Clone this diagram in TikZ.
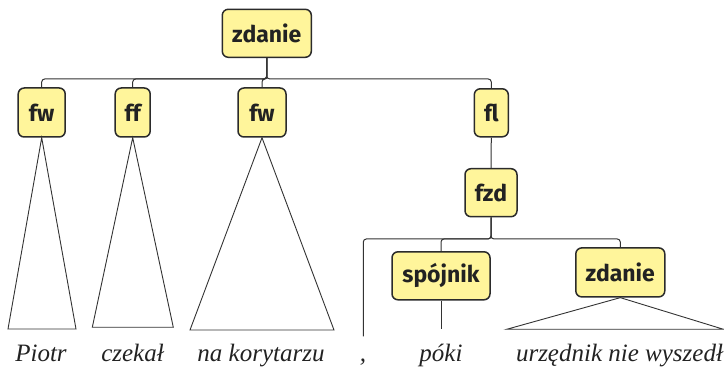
\documentclass[tikz,border=0pt]{standalone}
\usepackage{fontspec}
\setmainfont{Liberation Serif}
\newfontfamily\lblfont{Fira Sans}
\tikzset{
  x=1pt, y=-1pt,
  box/.style={draw=boxline, line width=1.5pt, fill=boxfill, rounded corners=6pt,
    inner sep=0pt, font=\lblfont\bfseries\fontsize{23}{26}\selectfont, text=txt,
    minimum height=48pt},
  conn/.style={draw=conline, line width=1pt, rounded corners=3pt},
  tri/.style={draw=conline, line width=0.9pt, line join=miter},
  word/.style={font=\rmfamily\itshape\fontsize{25}{28}\selectfont, text=txt, anchor=base, inner sep=0pt}
}
\definecolor{boxfill}{HTML}{FFF59B}
\definecolor{boxline}{HTML}{2B2B2B}
\definecolor{conline}{HTML}{333333}
\definecolor{txt}{HTML}{222222}
\begin{document}
\begin{tikzpicture}
\useasboundingbox (0,0) rectangle (724,371);
% nodes
\node[box, minimum width=89pt] (top) at (266.8,33.3) {zdanie};
\node[box, minimum width=47pt, minimum height=49pt] (fw1) at (41.7,112.5) {fw};
\node[box, minimum width=35pt, minimum height=49pt] (ff) at (132.7,112.5) {ff};
\node[box, minimum width=48pt, minimum height=49pt] (fw2) at (262,112.5) {fw};
\node[box, minimum width=34pt] (fl) at (491.3,112.8) {fl};
\node[box, minimum width=52pt] (fzd) at (491,192.7) {fzd};
\node[box, minimum width=98pt] (spoj) at (441,275.8) {spójnik};
\node[box, minimum width=89pt, minimum height=49pt] (zd2) at (620.3,272.4) {zdanie};
% junctions
\coordinate (bar1) at (266.8,79);
\coordinate (bar2) at (491,239);
\coordinate (commaEnd) at (363.3,336.5);
\coordinate (spojEnd) at (441,329);
% connectors upper
\draw[conn] (top.south) -- (bar1) -| (fw1.north);
\draw[conn] (top.south) -- (bar1) -| (ff.north);
\draw[conn] (top.south) -- (bar1) -| (fw2.north);
\draw[conn] (top.south) -- (bar1) -| (fl.north);
\draw[conn] (fl.south) -- (fzd.north);
% connectors lower
\draw[conn] (fzd.south) -- (bar2) -| (commaEnd);
\draw[conn] (fzd.south) -- (bar2) -| (spoj.north);
\draw[conn] (fzd.south) -- (bar2) -| (zd2.north);
\draw[conn] (spoj.south) -- (spojEnd);
% triangles
\coordinate (t1L) at (8,329);   \coordinate (t1R) at (76,329);
\coordinate (t2L) at (92.3,327.3); \coordinate (t2R) at (173.3,327.3);
\coordinate (t3L) at (190,330); \coordinate (t3R) at (334,330);
\coordinate (t4L) at (506.7,329.3); \coordinate (t4R) at (723.5,329.3);
\draw[tri] (fw1.south) -- (t1L) -- (t1R) -- cycle;
\draw[tri] (ff.south) -- (t2L) -- (t2R) -- cycle;
\draw[tri] (fw2.south) -- (t3L) -- (t3R) -- cycle;
\draw[tri] (zd2.south) -- (t4L) -- (t4R) -- cycle;
% words
\node[word] (w1) at (41,361.7) {Piotr};
\node[word] (w2) at (132.5,361.7) {czekał};
\node[word] (w3) at (261,361.7) {na korytarzu};
\node[word] (w4) at (363,361.7) {,};
\node[word] (w5) at (441,361.7) {póki};
\node[word] (w6) at (619.5,361.7) {urzędnik nie wyszedł};
\end{tikzpicture}
\end{document}
